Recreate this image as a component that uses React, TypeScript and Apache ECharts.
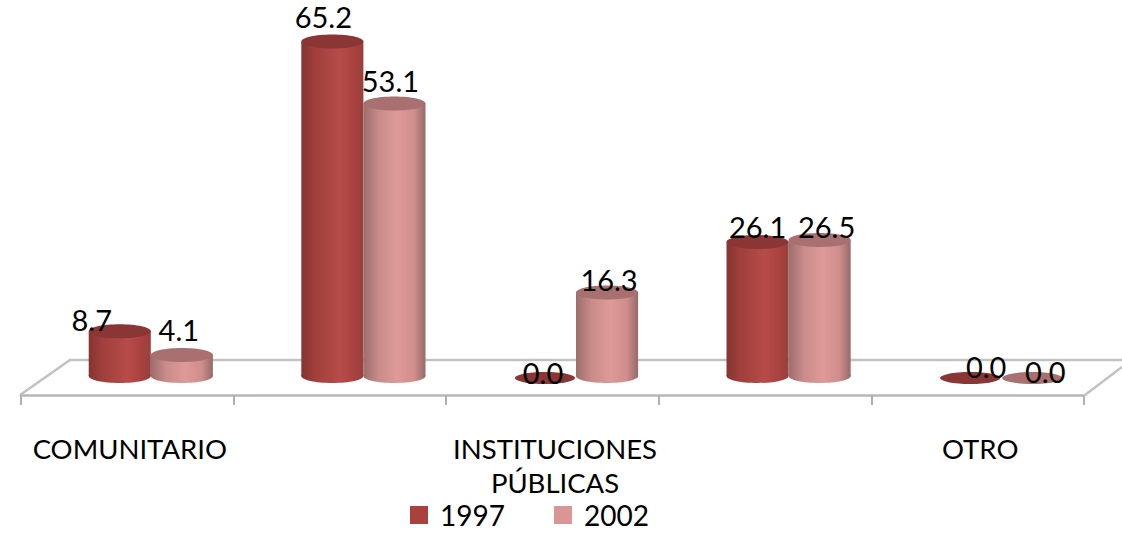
import React, { useEffect, useRef } from "react";
import * as echarts from "echarts";

const categories = ["COMUNITARIO", "", "INSTITUCIONES\nPÚBLICAS", "", "OTRO"];
const seriesNames = ["1997", "2002"];
const values1997 = [8.7, 65.2, 0.0, 26.1, 0.0];
const values2002 = [4.1, 53.1, 16.3, 26.5, 0.0];

const FONT = "Lato";
const W = 1122;
const H = 533;
const FLOOR_Y = 395;
const BACK_Y = 360;
const DEPTH_DX = 23.5;
const DEPTH_DY = -19;

const labelNudge: [number, number][][] = [
  [[-28, -12], [-3, -25]],
  [[-9, -25], [-4, -23]],
  [[-2, -4], [2, -13]],
  [[0, -16], [7, -14]],
  [[16, -10], [13, -5]],
];

type Look = {
  name: string;
  values: number[];
  side: number;
  swatch: string;
  stops: [number, string][];
  top: string;
  flat: string;
};

const looks: Look[] = [
  {
    name: seriesNames[0],
    values: values1997,
    side: -0.5,
    swatch: "#a9423f",
    stops: [
      [0, "#853432"],
      [0.22, "#a03f3c"],
      [0.62, "#b64c49"],
      [0.85, "#a9423f"],
      [1, "#96403d"],
    ],
    top: "#8a3634",
    flat: "#8a3634",
  },
  {
    name: seriesNames[1],
    values: values2002,
    side: 0.5,
    swatch: "#d99694",
    stops: [
      [0, "#9c6d6c"],
      [0.25, "#c98c8a"],
      [0.55, "#de9a98"],
      [0.82, "#cf8d8b"],
      [1, "#966a69"],
    ],
    top: "#a87070",
    flat: "#a87070",
  },
];

const makeSeries = (look: Look, order: number) => ({
  type: "custom",
  name: look.name,
  coordinateSystem: "cartesian2d",
  clip: false,
  itemStyle: { color: look.swatch },
  encode: { x: 0, y: 1 },
  data: look.values.map((v, i) => [i, v]),
  renderItem: (_params: any, api: any) => {
    const idx = api.value(0);
    const val = api.value(1);
    const catW = api.size([1, 0])[0];
    const barW = catW * 0.292;
    const base = api.coord([idx, 0]);
    const top = api.coord([idx, val]);
    const cx = base[0] + DEPTH_DX + look.side * barW;
    const by = base[1] + DEPTH_DY;
    const ty = top[1] + DEPTH_DY;
    const rx = barW / 2;
    const ry = 7;
    const nudge = labelNudge[idx][order];
    const children: any[] = [];
    const fill = new echarts.graphic.LinearGradient(
      0,
      0,
      1,
      0,
      look.stops.map(([offset, color]) => ({ offset, color }))
    );
    if (val > 0) {
      children.push(
        { type: "ellipse", shape: { cx, cy: by, rx, ry }, style: { fill } },
        { type: "rect", shape: { x: cx - rx, y: ty, width: barW, height: by - ty }, style: { fill } },
        { type: "ellipse", shape: { cx, cy: ty, rx, ry }, style: { fill: look.top } }
      );
    } else {
      children.push({
        type: "ellipse",
        shape: { cx, cy: by + 2, rx: rx - 1, ry: 6 },
        style: { fill: look.flat },
      });
    }
    children.push({
      type: "text",
      z2: 50,
      x: cx + nudge[0],
      y: ty + nudge[1],
      style: {
        text: val.toFixed(1),
        fontFamily: FONT,
        fontSize: 29,
        fill: "#000",
        textAlign: "center",
        textVerticalAlign: "middle",
      },
    });
    return { type: "group", children };
  },
});

const option: any = {
  animation: false,
  backgroundColor: "#fff",
  textStyle: { fontFamily: FONT },
  grid: { left: 21, right: W - 1084, top: FLOOR_Y - 70 * 5.13, bottom: H - FLOOR_Y, containLabel: false },
  xAxis: {
    type: "category",
    data: categories,
    boundaryGap: true,
    axisLine: { show: true, lineStyle: { color: "#b7b7b7", width: 2.5 } },
    axisTick: { show: true, length: 10, alignWithLabel: false, lineStyle: { color: "#b0b0b0", width: 2 } },
    axisLabel: {
      interval: 0,
      margin: 36,
      fontFamily: FONT,
      fontSize: 27.5,
      lineHeight: 34,
      padding: [0, 0, 0, 5],
      color: "#000",
    },
  },
  yAxis: { type: "value", min: 0, max: 70, show: false, splitLine: { show: false } },
  legend: {
    left: 410,
    top: 501,
    padding: 0,
    itemWidth: 18,
    itemHeight: 18,
    itemGap: 49,
    icon: "rect",
    data: seriesNames,
    textStyle: { fontFamily: FONT, fontSize: 28, lineHeight: 24, color: "#000", padding: [0, 0, 0, 7] },
  },
  graphic: [
    {
      type: "polyline",
      silent: true,
      z: -1,
      shape: {
        points: [
          [20, FLOOR_Y],
          [70, BACK_Y],
          [W, BACK_Y],
        ],
      },
      style: { stroke: "#c2c2c2", lineWidth: 2.5, fill: "none" },
    },
    {
      type: "line",
      silent: true,
      z: -1,
      shape: { x1: 1085, y1: FLOOR_Y, x2: W, y2: 367 },
      style: { stroke: "#c2c2c2", lineWidth: 2.5 },
    },
  ],
  series: looks.map(makeSeries),
};

export default function App() {
  const ref = useRef<HTMLDivElement>(null);
  useEffect(() => {
    document.body.style.margin = "0";
    document.body.style.background = "#fff";
    const chart = echarts.init(ref.current!, undefined, { renderer: "svg" });
    chart.setOption(option);
    return () => chart.dispose();
  }, []);
  return <div ref={ref} style={{ width: W, height: H }} />;
}
